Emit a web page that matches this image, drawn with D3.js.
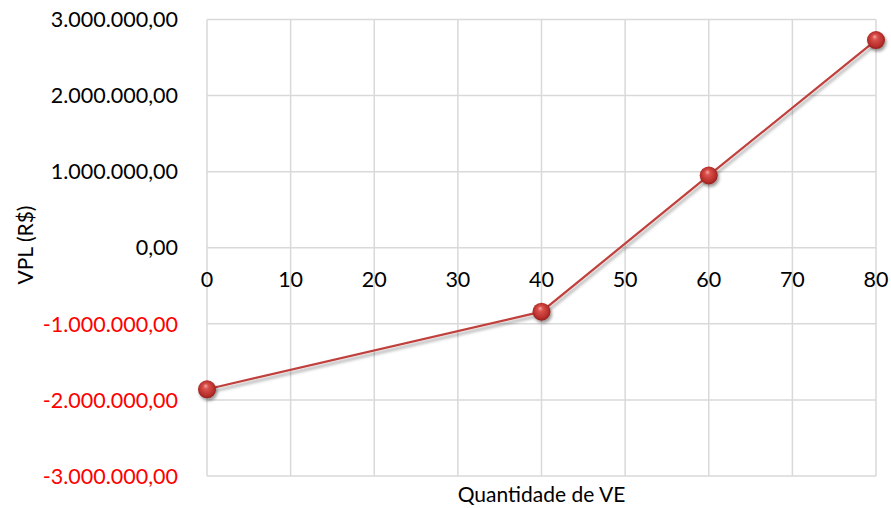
<!DOCTYPE html>
<html>
<head>
<meta charset="utf-8">
<script src="https://cdn.jsdelivr.net/npm/d3@7/dist/d3.min.js"></script>
<style>
  html, body { margin: 0; padding: 0; background: #ffffff; }
  svg { display: block; }
  text { font-family: Lato, "Liberation Sans", Arial, sans-serif; }
</style>
</head>
<body>
<svg id="chart" width="891" height="508"></svg>
<script>
// Net present value (VPL) by number of electric vehicles (VE)
const quantities = [0, 40, 60, 80];
const vplValues = [-1860000, -840000, 950000, 2730000];
const xTicks = [0, 10, 20, 30, 40, 50, 60, 70, 80];
const yTicks = [-3000000, -2000000, -1000000, 0, 1000000, 2000000, 3000000];
const xTitle = "Quantidade de VE";
const yTitle = "VPL (R$)";

const plot = { left: 207, right: 876, top: 19.5, bottom: 476 };

const svg = d3.select("#chart");

const x = d3.scaleLinear().domain([0, 80]).range([plot.left, plot.right]);
const y = d3.scaleLinear().domain([-3000000, 3000000]).range([plot.bottom, plot.top]);

// pt-BR number format: 1.000.000,00 with a plain hyphen for negatives
const fmt = d3.formatLocale({ decimal: ",", thousands: ".", grouping: [3], currency: ["R$", ""], minus: "-" }).format(",.2f");

const defs = svg.append("defs");

const grad = defs.append("radialGradient")
  .attr("id", "ball")
  .attr("cx", "0.5").attr("cy", "0.5").attr("r", "0.6")
  .attr("fx", "0.42").attr("fy", "0.3");
grad.append("stop").attr("offset", "0").attr("stop-color", "#f4a7a4");
grad.append("stop").attr("offset", "0.25").attr("stop-color", "#d9504b");
grad.append("stop").attr("offset", "0.7").attr("stop-color", "#b72e2a");
grad.append("stop").attr("offset", "1").attr("stop-color", "#7a1614");

const shadow = defs.append("filter").attr("id", "shadow")
  .attr("x", "-20%").attr("y", "-50%").attr("width", "140%").attr("height", "200%");
shadow.append("feDropShadow")
  .attr("dx", 1.5).attr("dy", 3).attr("stdDeviation", 1.6)
  .attr("flood-color", "#000").attr("flood-opacity", 0.35);

const ballShadow = defs.append("filter").attr("id", "ballShadow")
  .attr("x", "-60%").attr("y", "-60%").attr("width", "220%").attr("height", "220%");
ballShadow.append("feDropShadow")
  .attr("dx", 1.5).attr("dy", 2.5).attr("stdDeviation", 1.6)
  .attr("flood-color", "#000").attr("flood-opacity", 0.4);

// Gridlines
const grid = svg.append("g").attr("class", "grid");
grid.selectAll("line.h").data(yTicks).join("line")
  .attr("class", "h")
  .attr("x1", plot.left).attr("x2", plot.right)
  .attr("y1", d => y(d)).attr("y2", d => y(d))
  .attr("stroke", "#d9d9d9").attr("stroke-width", 1.5);
grid.selectAll("line.v").data(xTicks).join("line")
  .attr("class", "v")
  .attr("x1", d => x(d)).attr("x2", d => x(d))
  .attr("y1", plot.top).attr("y2", plot.bottom)
  .attr("stroke", "#d9d9d9").attr("stroke-width", 1.5);

// Y axis labels (negatives in red)
svg.append("g").selectAll("text").data(yTicks).join("text")
  .attr("x", 178)
  .attr("y", d => y(d))
  .attr("dy", "0.36em")
  .attr("text-anchor", "end")
  .attr("font-size", 21.5)
  .attr("fill", d => d < 0 ? "#ff0000" : "#000000")
  .text(d => fmt(d));

// X axis labels placed along the zero line
svg.append("g").selectAll("text").data(xTicks).join("text")
  .attr("x", d => x(d))
  .attr("y", y(0) + 39)
  .attr("text-anchor", "middle")
  .attr("font-size", 21.5)
  .attr("fill", "#000")
  .text(d => d);

// Axis titles
svg.append("text")
  .attr("x", x(40)).attr("y", 502)
  .attr("text-anchor", "middle")
  .attr("font-size", 21)
  .attr("fill", "#000")
  .text(xTitle);

svg.append("text")
  .attr("transform", `translate(33, 245) rotate(-90)`)
  .attr("text-anchor", "middle")
  .attr("font-size", 21)
  .attr("fill", "#000")
  .text(yTitle);

// Series line
const data = quantities.map((q, i) => ({ q, v: vplValues[i] }));
svg.append("path")
  .datum(data)
  .attr("d", d3.line().x(d => x(d.q)).y(d => y(d.v)))
  .attr("fill", "none")
  .attr("stroke", "#c0403c")
  .attr("stroke-width", 2.2)
  .attr("filter", "url(#shadow)");

// Spherical markers
svg.append("g").selectAll("circle").data(data).join("circle")
  .attr("cx", d => x(d.q))
  .attr("cy", d => y(d.v))
  .attr("r", 9)
  .attr("fill", "url(#ball)")
  .attr("filter", "url(#ballShadow)");
</script>
</body>
</html>
